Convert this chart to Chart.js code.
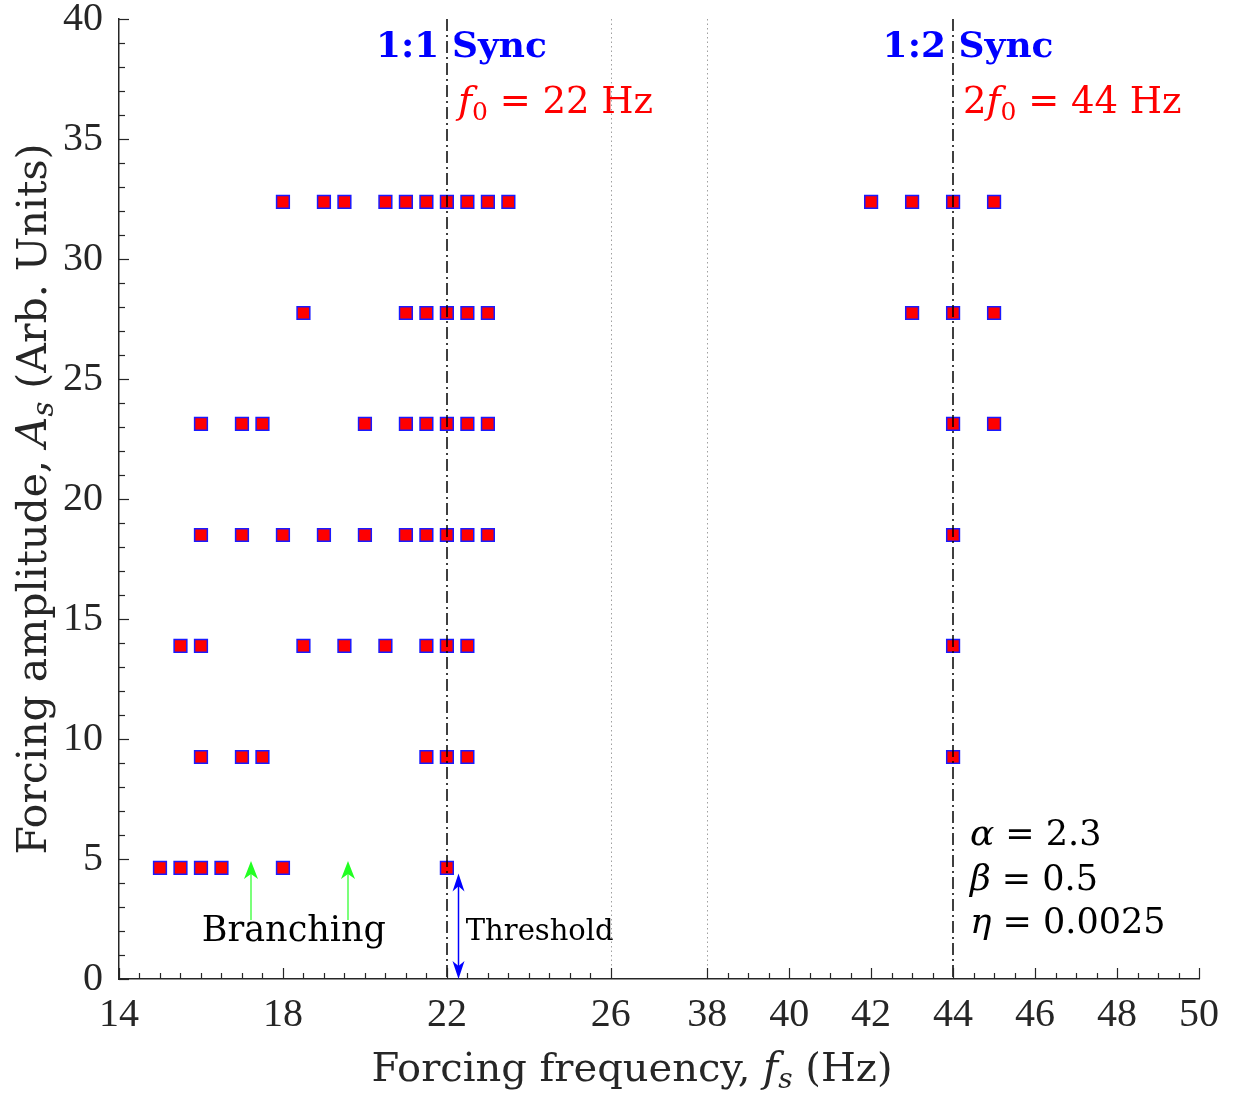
<!DOCTYPE html>
<html>
<head>
<meta charset="utf-8">
<script src="https://cdn.jsdelivr.net/npm/chart.js@4.4.1/dist/chart.umd.min.js"></script>
<style>
  html, body { margin: 0; padding: 0; background: #ffffff; }
  canvas { display: block; }
</style>
</head>
<body>
<canvas id="chart" width="1246" height="1094"></canvas>
<script>
// Forcing amplitude levels (arb. units)
const amplitudeLevels = [4.63, 9.25, 13.88, 18.5, 23.13, 27.75, 32.38];

// Forcing frequencies (Hz) at which synchronisation was reached, one list per amplitude level
const syncFreqsA1 = [15, 15.5, 16, 16.5, 18, 22];
const syncFreqsA2 = [16, 17, 17.5, 21.5, 22, 22.5, 44];
const syncFreqsA3 = [15.5, 16, 18.5, 19.5, 20.5, 21.5, 22, 22.5, 44];
const syncFreqsA4 = [16, 17, 18, 19, 20, 21, 21.5, 22, 22.5, 23, 44];
const syncFreqsA5 = [16, 17, 17.5, 20, 21, 21.5, 22, 22.5, 23, 44, 45];
const syncFreqsA6 = [18.5, 21, 21.5, 22, 22.5, 23, 43, 44, 45];
const syncFreqsA7 = [18, 19, 19.5, 20.5, 21, 21.5, 22, 22.5, 23, 23.5, 42, 43, 44, 45];
const syncFreqsByLevel = [syncFreqsA1, syncFreqsA2, syncFreqsA3, syncFreqsA4, syncFreqsA5, syncFreqsA6, syncFreqsA7];

// Axis tick labels
const freqTickLabels = [14, 18, 22, 26, 38, 40, 42, 44, 46, 48, 50];
const ampTickLabels = [0, 5, 10, 15, 20, 25, 30, 35, 40];

// Reference frequencies
const naturalFreq = 22;     // f0
const harmonicFreq = 44;    // 2 f0
const axisBreak = [26, 38]; // frequency range left out of the axis

// Model parameters
const paramNames = ['α', 'β', 'η'];
const paramValues = ['2.3', '0.5', '0.0025'];

// ---- broken frequency axis: 14–26 Hz and 38–50 Hz share one linear scale ----
const AXIS_GAP = 2.35;
const toAxis = f => (f <= axisBreak[0] ? f : f - axisBreak[1] + axisBreak[0] + AXIS_GAP);
const fromAxis = v => (v <= axisBreak[0] + 1e-6 ? v : v - axisBreak[0] - AXIS_GAP + axisBreak[1]);

const points = [];
syncFreqsByLevel.forEach((freqs, i) => {
  freqs.forEach(f => points.push({ x: toAxis(f), y: amplitudeLevels[i] }));
});

const ROMAN = '"DejaVu Serif"';
const TICKFONT = '"Liberation Serif"';
const AXIS_COLOR = '#262626';

function rom(s) { return s + 'px ' + ROMAN; }
function ital(s) { return 'italic ' + s + 'px ' + ROMAN; }

// Text made of runs in different fonts (upright, italic, subscripts)
function drawRich(ctx, x, y, parts, align) {
  let total = 0;
  parts.forEach(p => { ctx.font = p.font; p.w = ctx.measureText(p.text).width; total += p.w; });
  let cx = align === 'center' ? x - total / 2 : x;
  ctx.textAlign = 'left';
  ctx.textBaseline = 'alphabetic';
  parts.forEach(p => {
    ctx.font = p.font;
    ctx.fillStyle = p.color;
    ctx.fillText(p.text, cx, y + (p.dy || 0));
    cx += p.w;
  });
}

function arrowHead(ctx, x, y, dir, len, width) {
  // dir = -1 points up, +1 points down; tip at (x, y)
  ctx.beginPath();
  ctx.moveTo(x, y);
  ctx.lineTo(x - width / 2, y - dir * len);
  ctx.lineTo(x, y - dir * len * 0.72);
  ctx.lineTo(x + width / 2, y - dir * len);
  ctx.closePath();
  ctx.fill();
}

const decorations = {
  id: 'decorations',
  beforeDatasetsDraw(chart) {
    const { ctx, chartArea: a, scales: { x } } = chart;
    ctx.save();
    ctx.strokeStyle = '#a0a0a0';
    ctx.lineWidth = 1;
    ctx.setLineDash([1.5, 3]);
    axisBreak.forEach(f => {
      const p = Math.round(x.getPixelForValue(toAxis(f))) + 0.5;
      ctx.beginPath(); ctx.moveTo(p, a.top); ctx.lineTo(p, a.bottom); ctx.stroke();
    });
    ctx.restore();
  },
  afterDatasetsDraw(chart) {
    const { ctx, chartArea: a, scales: { x, y } } = chart;
    const px = f => x.getPixelForValue(toAxis(f));
    const py = v => y.getPixelForValue(v);
    ctx.save();

    // synchronisation frequencies
    ctx.strokeStyle = '#000000';
    ctx.lineWidth = 1.5;
    ctx.setLineDash([12, 4, 2, 4]);
    [naturalFreq, harmonicFreq].forEach(f => {
      const p = Math.round(px(f));
      ctx.beginPath(); ctx.moveTo(p, a.top); ctx.lineTo(p, a.bottom); ctx.stroke();
    });
    ctx.setLineDash([]);

    // inward tick marks
    ctx.strokeStyle = AXIS_COLOR;
    ctx.lineWidth = 1.2;
    const xRanges = [[14, axisBreak[0]], [axisBreak[1], 50]];
    xRanges.forEach(([lo, hi]) => {
      for (let f = lo; f <= hi + 1e-6; f += 0.5) {
        const p = Math.round(px(f)) + 0.5;
        const len = freqTickLabels.includes(f) ? 11 : 6;
        ctx.beginPath(); ctx.moveTo(p, a.bottom); ctx.lineTo(p, a.bottom - len); ctx.stroke();
      }
    });
    for (let v = 0; v <= 40; v += 1) {
      const p = Math.round(py(v)) + 0.5;
      const len = v % 5 === 0 ? 10 : 6;
      ctx.beginPath(); ctx.moveTo(a.left, p); ctx.lineTo(a.left + len, p); ctx.stroke();
    }

    // sync regime labels
    const bold = 'bold 36px ' + ROMAN;
    const red = '#ff0000', blue = '#0000ff';
    drawRich(ctx, px(20.27), py(38.4), [{ text: '1:1 Sync', font: bold, color: blue }]);
    drawRich(ctx, px(42.28), py(38.4), [{ text: '1:2 Sync', font: bold, color: blue }]);
    drawRich(ctx, px(22.27), py(36.1), [
      { text: 'f', font: ital(38), color: red },
      { text: '0', font: rom(25), color: red, dy: 7 },
      { text: ' = 22 Hz', font: rom(37), color: red }
    ]);
    drawRich(ctx, px(44.24), py(36.1), [
      { text: '2', font: rom(37), color: red },
      { text: 'f', font: ital(38), color: red },
      { text: '0', font: rom(25), color: red, dy: 7 },
      { text: ' = 44 Hz', font: rom(37), color: red }
    ]);

    // parameter block
    const paramY = [5.58, 3.71, 1.92];
    paramNames.forEach((n, i) => {
      drawRich(ctx, px(44.41), py(paramY[i]), [
        { text: n, font: ital(36), color: '#000000' },
        { text: ' = ' + paramValues[i], font: rom(35), color: '#000000' }
      ]);
    });

    // branching arrows and label
    ctx.strokeStyle = '#33ff33';
    ctx.fillStyle = '#22ff22';
    ctx.lineWidth = 1.3;
    [17.22, 19.59].forEach(f => {
      const p = Math.round(px(f));
      ctx.beginPath(); ctx.moveTo(p, py(2.46)); ctx.lineTo(p, py(4.92) + 8); ctx.stroke();
      arrowHead(ctx, p, py(4.92), -1, 18, 14);
    });
    drawRich(ctx, px(16.02), py(1.58), [{ text: 'Branching', font: rom(35), color: '#000000' }]);

    // threshold arrow and label
    ctx.strokeStyle = blue;
    ctx.fillStyle = blue;
    ctx.lineWidth = 1.5;
    const tx = Math.round(px(22.27)) + 0.5;
    ctx.beginPath(); ctx.moveTo(tx, py(4.4) + 8); ctx.lineTo(tx, py(0) - 8); ctx.stroke();
    arrowHead(ctx, tx, py(4.4), -1, 18, 12);
    arrowHead(ctx, tx, py(0), 1, 18, 12);
    drawRich(ctx, px(22.46), py(1.62), [{ text: 'Threshold', font: rom(29), color: '#000000' }]);

    ctx.restore();
  },
  afterDraw(chart) {
    const { ctx, chartArea: a } = chart;
    ctx.save();
    // frequency axis title
    drawRich(ctx, a.left + 513, 1081, [
      { text: 'Forcing frequency, ', font: rom(40), color: AXIS_COLOR },
      { text: 'f', font: ital(41), color: AXIS_COLOR },
      { text: 's', font: ital(28), color: AXIS_COLOR, dy: 7 },
      { text: ' (Hz)', font: rom(40), color: AXIS_COLOR }
    ], 'center');
    // amplitude axis title
    ctx.translate(46, (a.top + a.bottom) / 2);
    ctx.rotate(-Math.PI / 2);
    drawRich(ctx, 0, 0, [
      { text: 'Forcing amplitude, ', font: rom(41), color: AXIS_COLOR },
      { text: 'A', font: ital(42), color: AXIS_COLOR },
      { text: 's', font: ital(29), color: AXIS_COLOR, dy: 7 },
      { text: ' (Arb. Units)', font: rom(41), color: AXIS_COLOR }
    ], 'center');
    ctx.restore();
  }
};

new Chart(document.getElementById('chart'), {
  type: 'scatter',
  data: {
    datasets: [{
      data: points,
      pointStyle: 'rect',
      pointRadius: 9,
      pointHoverRadius: 9,
      backgroundColor: '#ff0000',
      borderColor: '#1a1aff',
      borderWidth: 1.5,
      showLine: false
    }]
  },
  options: {
    responsive: false,
    animation: false,
    devicePixelRatio: 1,
    events: [],
    layout: { padding: { top: 19, right: 47, left: 0, bottom: 0 } },
    plugins: { legend: { display: false }, tooltip: { enabled: false } },
    scales: {
      x: {
        type: 'linear',
        min: 14,
        max: toAxis(50),
        grid: { display: false, drawTicks: false },
        border: { display: true, color: AXIS_COLOR, width: 1.5 },
        afterBuildTicks: s => { s.ticks = freqTickLabels.map(f => ({ value: toAxis(f) })); },
        ticks: {
          autoSkip: false,
          maxRotation: 0,
          padding: 12,
          color: AXIS_COLOR,
          font: { family: TICKFONT, size: 40 },
          callback: v => String(Math.round(fromAxis(v)))
        },
        afterFit: s => { s.height = 115; s.paddingLeft = 0; s.paddingRight = 0; }
      },
      y: {
        type: 'linear',
        min: 0,
        max: 40,
        grid: { display: false, drawTicks: false },
        border: { display: true, color: AXIS_COLOR, width: 1.5 },
        afterBuildTicks: s => { s.ticks = ampTickLabels.map(v => ({ value: v })); },
        ticks: {
          padding: 16,
          color: AXIS_COLOR,
          font: { family: TICKFONT, size: 40 }
        },
        afterFit: s => { s.width = 119; s.paddingTop = 0; s.paddingBottom = 0; }
      }
    }
  },
  plugins: [decorations]
});
</script>
</body>
</html>
